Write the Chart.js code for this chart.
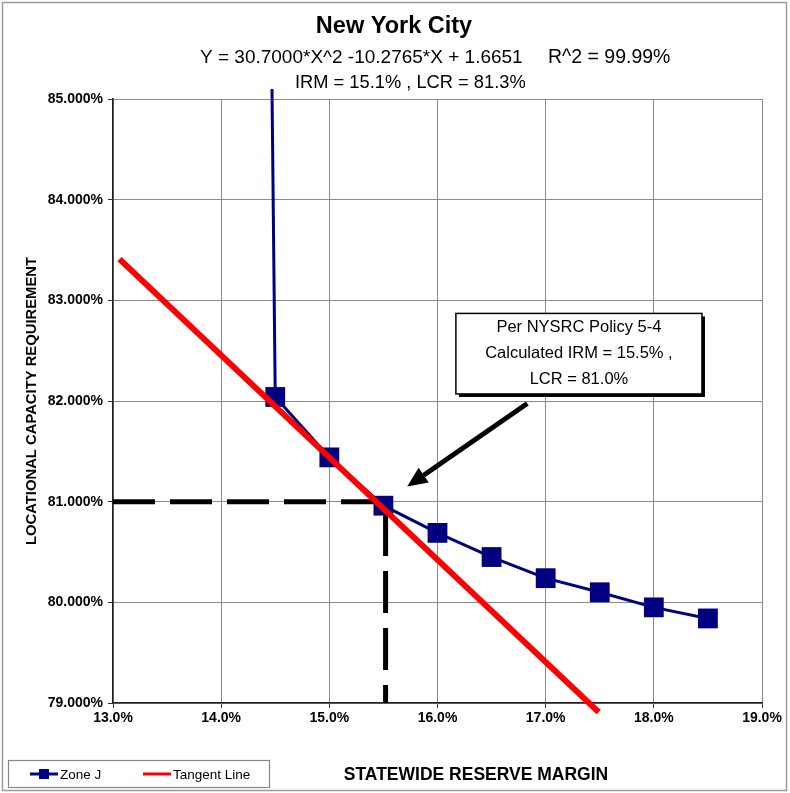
<!DOCTYPE html>
<html>
<head>
<meta charset="utf-8">
<title>New York City - Locational Capacity Requirement</title>
<script src="https://cdn.jsdelivr.net/npm/chart.js@4.4.1/dist/chart.umd.min.js"></script>
<style>
  html, body { margin: 0; padding: 0; background: #fff; }
  #wrap { width: 790px; height: 793px; position: relative; }
  canvas { display: block; }
</style>
</head>
<body>
<div id="wrap"><canvas id="c" width="790" height="793"></canvas></div>
<script>
// Statewide reserve margin (%) vs. locational capacity requirement (%) for Zone J
const zoneX = [14.47, 14.5, 15.0, 15.5, 16.0, 16.5, 17.0, 17.5, 18.0, 18.5];
const zoneY = [85.10, 82.04, 81.44, 80.96, 80.69, 80.45, 80.24, 80.10, 79.95, 79.84];

// Tangent line end points
const tangentX = [13.06, 17.49];
const tangentY = [83.41, 78.91];

// Dashed guide marking the selected IRM / LCR point
const guideX = [13.0, 15.52, 15.52];
const guideY = [81.0, 81.0, 79.0];

// Axis ranges and tick values
const xTickValues = [13, 14, 15, 16, 17, 18, 19];
const yTickValues = [79, 80, 81, 82, 83, 84, 85];

// Text
const titleText = 'New York City';
const fitText = 'Y = 30.7000*X^2 -10.2765*X + 1.6651';
const r2Text = 'R^2 = 99.99%';
const resultText = 'IRM = 15.1% , LCR = 81.3%';
const calloutLines = ['Per NYSRC Policy 5-4', 'Calculated IRM = 15.5% ,', 'LCR = 81.0%'];
const xTitle = 'STATEWIDE RESERVE MARGIN';
const yTitle = 'LOCATIONAL CAPACITY REQUIREMENT';
const seriesNames = ['Zone J', 'Tangent Line'];

// Callout box and arrow, in data units
const calloutBox = { x0: 16.17, x1: 18.445, y0: 82.87, y1: 82.07 };
const calloutArrow = { fromX: 16.83, fromY: 81.975, toX: 15.72, toY: 81.15 };

const FONT = "'Liberation Sans', Arial, Helvetica, sans-serif";
const NAVY = '#000080';
const RED = '#ff0000';

const toPoints = (xs, ys) => xs.map((x, i) => ({ x: x, y: ys[i] }));

const decorations = {
  id: 'decorations',
  beforeDraw(chart) {
    const ctx = chart.ctx;
    ctx.save();
    ctx.fillStyle = '#fff';
    ctx.fillRect(0, 0, chart.width, chart.height);
    ctx.restore();
  },
  afterDraw(chart) {
    const ctx = chart.ctx;
    const xs = chart.scales.x, ys = chart.scales.y;
    ctx.save();

    // outer frame
    ctx.strokeStyle = '#9a9a9a';
    ctx.lineWidth = 1.5;
    ctx.strokeRect(2.5, 2.5, 784, 788);

    // titles
    ctx.fillStyle = '#000';
    ctx.textBaseline = 'alphabetic';
    ctx.textAlign = 'center';
    ctx.font = 'bold 23.5px ' + FONT;
    ctx.fillText(titleText, 394, 33);
    ctx.textAlign = 'left';
    ctx.font = '19px ' + FONT;
    ctx.fillText(fitText, 200, 63);
    ctx.font = '19.5px ' + FONT;
    ctx.fillText(r2Text, 548, 63);
    ctx.font = '18.3px ' + FONT;
    ctx.fillText(resultText, 295, 88);

    // axis titles
    ctx.font = 'bold 17.5px ' + FONT;
    ctx.textAlign = 'center';
    ctx.fillText(xTitle, 476, 780);
    ctx.save();
    ctx.translate(36, 401);
    ctx.rotate(-Math.PI / 2);
    ctx.font = 'bold 14.8px ' + FONT;
    ctx.fillText(yTitle, 0, 0);
    ctx.restore();

    // callout box with shadow
    const bx0 = xs.getPixelForValue(calloutBox.x0), bx1 = xs.getPixelForValue(calloutBox.x1);
    const by0 = ys.getPixelForValue(calloutBox.y0), by1 = ys.getPixelForValue(calloutBox.y1);
    ctx.fillStyle = '#000';
    ctx.fillRect(bx0 + 3, by0 + 3, bx1 - bx0, by1 - by0);
    ctx.fillStyle = '#fff';
    ctx.fillRect(bx0, by0, bx1 - bx0, by1 - by0);
    ctx.strokeStyle = '#000';
    ctx.lineWidth = 1.5;
    ctx.strokeRect(bx0, by0, bx1 - bx0, by1 - by0);
    ctx.fillStyle = '#000';
    ctx.font = '16.5px ' + FONT;
    ctx.textAlign = 'center';
    const cx = (bx0 + bx1) / 2;
    calloutLines.forEach((t, i) => ctx.fillText(t, cx, by0 + 19 + i * 26));

    // arrow
    const ax0 = xs.getPixelForValue(calloutArrow.fromX), ay0 = ys.getPixelForValue(calloutArrow.fromY);
    const ax1 = xs.getPixelForValue(calloutArrow.toX), ay1 = ys.getPixelForValue(calloutArrow.toY);
    const ang = Math.atan2(ay1 - ay0, ax1 - ax0);
    const headLen = 20, headW = 9;
    const bxp = ax1 - headLen * Math.cos(ang), byp = ay1 - headLen * Math.sin(ang);
    ctx.strokeStyle = '#000';
    ctx.lineWidth = 5;
    ctx.lineCap = 'butt';
    ctx.beginPath();
    ctx.moveTo(ax0, ay0);
    ctx.lineTo(bxp, byp);
    ctx.stroke();
    ctx.beginPath();
    ctx.moveTo(ax1, ay1);
    ctx.lineTo(bxp + headW * Math.sin(ang), byp - headW * Math.cos(ang));
    ctx.lineTo(bxp - headW * Math.sin(ang), byp + headW * Math.cos(ang));
    ctx.closePath();
    ctx.fill();

    // legend
    ctx.fillStyle = '#fff';
    ctx.fillRect(8, 760, 262, 28);
    ctx.strokeStyle = '#888';
    ctx.lineWidth = 1.2;
    ctx.strokeRect(8.5, 760.5, 261, 27);
    const ly = 774;
    ctx.lineWidth = 3;
    ctx.strokeStyle = NAVY;
    ctx.beginPath(); ctx.moveTo(30, ly); ctx.lineTo(58, ly); ctx.stroke();
    ctx.fillStyle = NAVY;
    ctx.fillRect(39, ly - 5, 10, 10);
    ctx.strokeStyle = RED;
    ctx.beginPath(); ctx.moveTo(143, ly); ctx.lineTo(171, ly); ctx.stroke();
    ctx.fillStyle = '#000';
    ctx.font = '13.5px ' + FONT;
    ctx.textAlign = 'left';
    ctx.textBaseline = 'middle';
    ctx.fillText(seriesNames[0], 60, ly + 1);
    ctx.fillText(seriesNames[1], 173, ly + 1);

    ctx.restore();
  }
};

new Chart(document.getElementById('c'), {
  type: 'scatter',
  data: {
    datasets: [
      {
        label: seriesNames[1],
        data: toPoints(tangentX, tangentY),
        showLine: true,
        borderColor: RED,
        borderWidth: 6,
        pointRadius: 0,
        clip: false,
        order: 1
      },
      {
        label: seriesNames[0],
        data: toPoints(zoneX, zoneY),
        showLine: true,
        borderColor: NAVY,
        borderWidth: 3,
        pointStyle: 'rect',
        pointRadius: zoneX.map((_, i) => (i === 0 ? 0 : 14)),
        pointBackgroundColor: NAVY,
        pointBorderColor: NAVY,
        pointBorderWidth: 0,
        clip: false,
        order: 2
      },
      {
        label: 'guide',
        data: toPoints(guideX, guideY),
        showLine: true,
        borderColor: '#000',
        borderWidth: 5,
        borderDash: [42, 15],
        pointRadius: 0,
        order: 3
      }
    ]
  },
  options: {
    responsive: false,
    animation: false,
    devicePixelRatio: 1,
    layout: { padding: { top: 99, right: 28, left: 0, bottom: 0 } },
    plugins: {
      legend: { display: false },
      title: { display: false },
      tooltip: { enabled: false }
    },
    scales: {
      x: {
        type: 'linear',
        min: 13,
        max: 19,
        afterBuildTicks: (s) => { s.ticks = xTickValues.map(v => ({ value: v })); },
        afterFit: (s) => { s.height = 90; },
        ticks: {
          callback: (v) => v.toFixed(1) + '%',
          color: '#000',
          font: { family: FONT, size: 14, weight: 'bold' },
          maxRotation: 0,
          padding: 2
        },
        grid: { color: '#8a8a8a', lineWidth: 1, tickLength: 5, tickColor: '#333' },
        border: { color: '#222', width: 1.5 }
      },
      y: {
        type: 'linear',
        min: 79,
        max: 85,
        afterBuildTicks: (s) => { s.ticks = yTickValues.map(v => ({ value: v })); },
        afterFit: (s) => { s.width = 113; },
        ticks: {
          callback: (v) => v.toFixed(3) + '%',
          color: '#000',
          font: { family: FONT, size: 14, weight: 'bold' },
          padding: 5
        },
        grid: { color: '#8a8a8a', lineWidth: 1, tickLength: 5, tickColor: '#333' },
        border: { color: '#222', width: 1.5 }
      }
    }
  },
  plugins: [decorations]
});
</script>
</body>
</html>
